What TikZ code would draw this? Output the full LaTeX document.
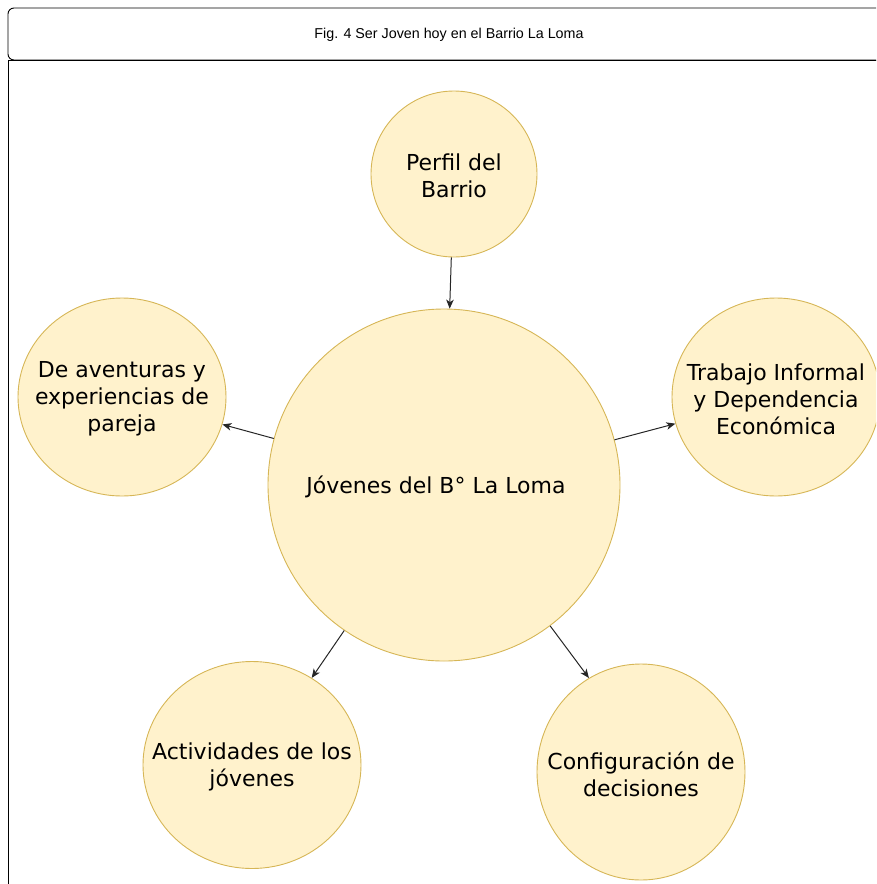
\documentclass[tikz,border=0pt]{standalone}
\usepackage{fontspec}
\setmainfont{DejaVu Sans}
\newfontfamily\titlefont{Liberation Sans}
\usetikzlibrary{shapes.geometric,arrows.meta}

\definecolor{topicfill}{HTML}{FFF2CC}
\definecolor{topicline}{HTML}{D6B656}

\tikzset{
	topic/.style={ellipse, draw=topicline, fill=topicfill, line width=0.9pt, inner sep=0pt},
	topictext/.style={align=center, inner sep=0pt, yshift=-2pt, font=\fontsize{22}{27}\selectfont},
	link/.style={->, line width=1pt, draw=black!85}
}

\begin{document}
\begin{tikzpicture}[x=1pt,y=-1pt,>={Stealth[length=9pt,width=7.5pt,inset=2.5pt]}]
	\useasboundingbox (0,0) rectangle (876,884);
	\clip (0,0) rectangle (876,884);
	
	% frame and title
	\draw [line width=0.9pt, rounded corners=6pt] (8, 8) rectangle (890, 60);
	\draw [line width=0.9pt] (8, 890) -- (8, 60) -- (890, 60);
	\node [font=\titlefont\fontsize{14.3}{16}\selectfont] (title) at (449, 35) {Fig. 4 Ser Joven hoy en el Barrio La Loma};
	
	% topics
	\node [topic, minimum width=352pt, minimum height=352pt] (jovenes) at (444, 485) {};
	\node [topic, minimum width=166pt, minimum height=166pt] (perfil) at (454, 174) {};
	\node [topic, minimum width=208pt, minimum height=198pt] (aventuras) at (122, 397) {};
	\node [topic, minimum width=208pt, minimum height=198pt] (trabajo) at (776, 397) {};
	\node [topic, minimum width=218pt, minimum height=207pt] (actividades) at (252, 765) {};
	\node [topic, minimum width=208pt, minimum height=216pt] (decisiones) at (641, 772) {};
	
	\node [topictext, xshift=-8pt] (jovenes-txt) at (jovenes) {J\'ovenes del B° La Loma};
	\node [topictext] (perfil-txt) at (perfil) {Perfil del\\Barrio};
	\node [topictext] (aventuras-txt) at (aventuras) {De aventuras y\\experiencias de\\pareja};
	\node [topictext] (trabajo-txt) at (trabajo) {Trabajo Informal\\y Dependencia\\Econ\'omica};
	\node [topictext] (actividades-txt) at (actividades) {Actividades de los\\j\'ovenes};
	\node [topictext] (decisiones-txt) at (decisiones) {Configuraci\'on de\\decisiones};
	
	\draw [link] (perfil) -- (jovenes);
	\draw [link] (jovenes) -- (aventuras);
	\draw [link] (jovenes) -- (trabajo);
	\draw [link] (jovenes) -- (actividades);
	\draw [link] (jovenes.-53) -- (decisiones.119);
	
\end{tikzpicture}
\end{document}
